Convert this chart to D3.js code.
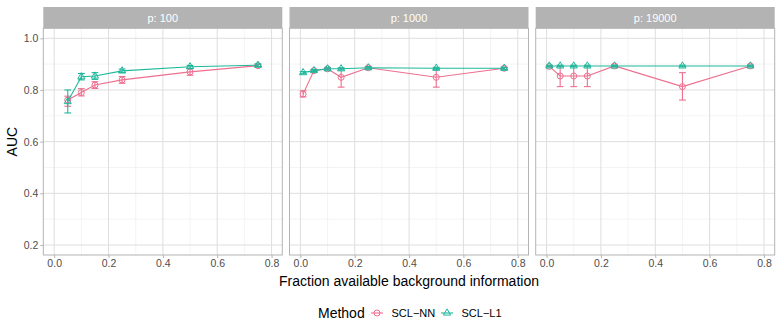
<!DOCTYPE html>
<html>
<head>
<meta charset="utf-8">
<script src="https://cdn.jsdelivr.net/npm/d3@7"></script>
<style>
  body { margin: 0; background: #fff; }
  svg { font-family: "Liberation Sans", Arial, sans-serif; }
</style>
</head>
<body>
<div id="chart"></div>
<script>
// facets and methods
var facets = ["p: 100", "p: 1000", "p: 19000"];
var methods = ["SCL-NN", "SCL-L1"];
var methodColors = ["#ED6F8E", "#1DB89B"];

// fraction of background information per facet
var fracP100 = [0.05, 0.1, 0.15, 0.25, 0.5, 0.75];
var fracP1000 = [0.01, 0.05, 0.1, 0.15, 0.25, 0.5, 0.75];
var fracP19000 = [0.01, 0.05, 0.1, 0.15, 0.25, 0.5, 0.75];

// AUC mean, lower, upper
var nnP100 = [0.761, 0.790, 0.819, 0.839, 0.870, 0.894];
var nnP100Lo = [0.737, 0.777, 0.806, 0.826, 0.857, 0.890];
var nnP100Hi = [0.776, 0.805, 0.832, 0.852, 0.883, 0.898];
var l1P100 = [0.755, 0.851, 0.854, 0.874, 0.890, 0.896];
var l1P100Lo = [0.711, 0.839, 0.841, 0.867, 0.884, 0.891];
var l1P100Hi = [0.800, 0.864, 0.867, 0.881, 0.895, 0.901];

var nnP1000 = [0.784, 0.875, 0.882, 0.849, 0.886, 0.849, 0.884];
var nnP1000Lo = [0.773, 0.871, 0.878, 0.811, 0.882, 0.811, 0.880];
var nnP1000Hi = [0.797, 0.879, 0.886, 0.884, 0.890, 0.884, 0.888];
var l1P1000 = [0.867, 0.875, 0.882, 0.882, 0.886, 0.884, 0.884];
var l1P1000Lo = [0.863, 0.871, 0.878, 0.878, 0.882, 0.880, 0.880];
var l1P1000Hi = [0.871, 0.879, 0.886, 0.886, 0.890, 0.888, 0.888];

var nnP19000 = [0.891, 0.854, 0.854, 0.854, 0.893, 0.813, 0.893];
var nnP19000Lo = [0.889, 0.813, 0.813, 0.813, 0.890, 0.761, 0.890];
var nnP19000Hi = [0.893, 0.893, 0.893, 0.893, 0.896, 0.867, 0.896];
var l1P19000 = [0.893, 0.893, 0.893, 0.893, 0.893, 0.893, 0.893];
var l1P19000Lo = [0.890, 0.890, 0.890, 0.890, 0.890, 0.890, 0.890];
var l1P19000Hi = [0.896, 0.896, 0.896, 0.896, 0.896, 0.896, 0.896];

var xTicks = [0, 0.2, 0.4, 0.6, 0.8];
var xMinor = [0.1, 0.3, 0.5, 0.7];
var yTicks = [0.2, 0.4, 0.6, 0.8, 1.0];
var yMinor = [0.3, 0.5, 0.7, 0.9];

function rows(x, m, lo, hi) {
  return x.map(function(v, i) { return {x: v, y: m[i], lo: lo[i], hi: hi[i]}; });
}

var panelData = [
  [rows(fracP100, nnP100, nnP100Lo, nnP100Hi), rows(fracP100, l1P100, l1P100Lo, l1P100Hi)],
  [rows(fracP1000, nnP1000, nnP1000Lo, nnP1000Hi), rows(fracP1000, l1P1000, l1P1000Lo, l1P1000Hi)],
  [rows(fracP19000, nnP19000, nnP19000Lo, nnP19000Hi), rows(fracP19000, l1P19000, l1P19000Lo, l1P19000Hi)]
];

var W = 781, H = 335;
var panelLeft = [43.3, 289.5, 535.7];
var panelW = 239;
var stripTop = 7, panelTop = 28.3, panelBottom = 255;

var svg = d3.select("#chart").append("svg")
  .attr("width", W)
  .attr("height", H);

var y = d3.scaleLinear().domain([0.1613, 1.0387]).range([panelBottom, panelTop]);

facets.forEach(function(name, fi) {
  var x0 = panelLeft[fi];
  var x = d3.scaleLinear().domain([-0.04, 0.8395]).range([x0, x0 + panelW]);
  var g = svg.append("g").attr("class", "panel");

  // strip
  g.append("rect")
    .attr("x", x0).attr("y", stripTop)
    .attr("width", panelW).attr("height", panelTop - stripTop)
    .style("fill", "#b3b3b3");
  g.append("text")
    .text(name)
    .attr("x", x0 + panelW / 2).attr("y", (stripTop + panelTop) / 2 + 4)
    .attr("text-anchor", "middle")
    .style("font-size", "11px")
    .style("fill", "#ffffff");

  // grid
  g.selectAll(".ymin").data(yMinor).enter().append("line")
    .attr("x1", x0).attr("x2", x0 + panelW)
    .attr("y1", function(d) { return y(d); }).attr("y2", function(d) { return y(d); })
    .style("stroke", "#ededed").style("stroke-width", 0.6);
  g.selectAll(".xmin").data(xMinor).enter().append("line")
    .attr("y1", panelTop).attr("y2", panelBottom)
    .attr("x1", function(d) { return x(d); }).attr("x2", function(d) { return x(d); })
    .style("stroke", "#ededed").style("stroke-width", 0.6);
  g.selectAll(".ymaj").data(yTicks).enter().append("line")
    .attr("x1", x0).attr("x2", x0 + panelW)
    .attr("y1", function(d) { return y(d); }).attr("y2", function(d) { return y(d); })
    .style("stroke", "#dedede").style("stroke-width", 1);
  g.selectAll(".xmaj").data(xTicks).enter().append("line")
    .attr("y1", panelTop).attr("y2", panelBottom)
    .attr("x1", function(d) { return x(d); }).attr("x2", function(d) { return x(d); })
    .style("stroke", "#dedede").style("stroke-width", 1);

  // x axis
  var xAxis = g.append("g")
    .attr("transform", "translate(0," + panelBottom + ")")
    .call(d3.axisBottom(x).tickValues(xTicks).tickFormat(d3.format(".1f")).tickSize(3).tickPadding(2));
  xAxis.select(".domain").remove();
  xAxis.selectAll("line").style("stroke", "#b3b3b3");
  xAxis.selectAll("text").style("font-size", "10.5px").style("fill", "#4d4d4d")
    .style("font-family", "'Liberation Sans', Arial, sans-serif");

  if (fi === 0) {
    var yAxis = g.append("g")
      .attr("transform", "translate(" + x0 + ",0)")
      .call(d3.axisLeft(y).tickValues(yTicks).tickFormat(d3.format(".1f")).tickSize(3).tickPadding(2));
    yAxis.select(".domain").remove();
    yAxis.selectAll("line").style("stroke", "#b3b3b3");
    yAxis.selectAll("text").style("font-size", "10.5px").style("fill", "#4d4d4d")
      .style("font-family", "'Liberation Sans', Arial, sans-serif");
  }

  // border
  g.append("rect")
    .attr("x", x0).attr("y", panelTop)
    .attr("width", panelW).attr("height", panelBottom - panelTop)
    .style("fill", "none").style("stroke", "#b3b3b3").style("stroke-width", 1);

  var line = d3.line().x(function(d) { return x(d.x); }).y(function(d) { return y(d.y); });

  panelData[fi].forEach(function(series, si) {
    var col = methodColors[si];
    var sg = g.append("g");
    sg.append("path").datum(series)
      .attr("d", line)
      .style("fill", "none").style("stroke", col).style("stroke-width", 1.1);
    var eb = sg.selectAll(".eb").data(series).enter().append("g");
    eb.append("line")
      .attr("x1", function(d) { return x(d.x); }).attr("x2", function(d) { return x(d.x); })
      .attr("y1", function(d) { return y(d.lo); }).attr("y2", function(d) { return y(d.hi); })
      .style("stroke", col).style("stroke-width", 1.1);
    eb.append("line")
      .attr("x1", function(d) { return x(d.x - 0.0125); }).attr("x2", function(d) { return x(d.x + 0.0125); })
      .attr("y1", function(d) { return y(d.lo); }).attr("y2", function(d) { return y(d.lo); })
      .style("stroke", col).style("stroke-width", 1.1);
    eb.append("line")
      .attr("x1", function(d) { return x(d.x - 0.0125); }).attr("x2", function(d) { return x(d.x + 0.0125); })
      .attr("y1", function(d) { return y(d.hi); }).attr("y2", function(d) { return y(d.hi); })
      .style("stroke", col).style("stroke-width", 1.1);
    if (si === 0) {
      sg.selectAll(".pt").data(series).enter().append("circle")
        .attr("cx", function(d) { return x(d.x); }).attr("cy", function(d) { return y(d.y); })
        .attr("r", 3)
        .style("fill", "none").style("stroke", col).style("stroke-width", 1);
    } else {
      sg.selectAll(".pt").data(series).enter().append("path")
        .attr("d", d3.symbol().type(d3.symbolTriangle).size(22))
        .attr("transform", function(d) { return "translate(" + x(d.x) + "," + y(d.y) + ")"; })
        .style("fill", "none").style("stroke", col).style("stroke-width", 1);
    }
  });
});

// axis titles
svg.append("text")
  .text("Fraction available background information")
  .attr("x", (panelLeft[0] + panelLeft[2] + panelW) / 2)
  .attr("y", 286)
  .attr("text-anchor", "middle")
  .style("font-size", "14px")
  .style("fill", "#000");

svg.append("text")
  .text("AUC")
  .attr("transform", "translate(17," + ((panelTop + panelBottom) / 2) + ") rotate(-90)")
  .attr("text-anchor", "middle")
  .style("font-size", "14px")
  .style("fill", "#000");

// legend
var legend = svg.append("g").attr("transform", "translate(0,318)");
legend.append("text")
  .text("Method")
  .attr("x", 318).attr("y", 0)
  .style("font-size", "14px").style("fill", "#000");

var legendCx = [377, 447];
methods.forEach(function(m, i) {
  var cx = legendCx[i];
  var col = methodColors[i];
  legend.append("line")
    .attr("x1", cx - 6).attr("x2", cx + 6).attr("y1", -5).attr("y2", -5)
    .style("stroke", col).style("stroke-width", 1.1);
  if (i === 0) {
    legend.append("circle").attr("cx", cx).attr("cy", -5).attr("r", 3)
      .style("fill", "none").style("stroke", col);
  } else {
    legend.append("path").attr("d", d3.symbol().type(d3.symbolTriangle).size(22))
      .attr("transform", "translate(" + cx + ",-5)")
      .style("fill", "none").style("stroke", col);
  }
  legend.append("text")
    .text(m.replace("-", "\u2212"))
    .attr("x", cx + 14.5).attr("y", -1)
    .style("font-size", "11px").style("fill", "#000");
});
</script>
</body>
</html>
